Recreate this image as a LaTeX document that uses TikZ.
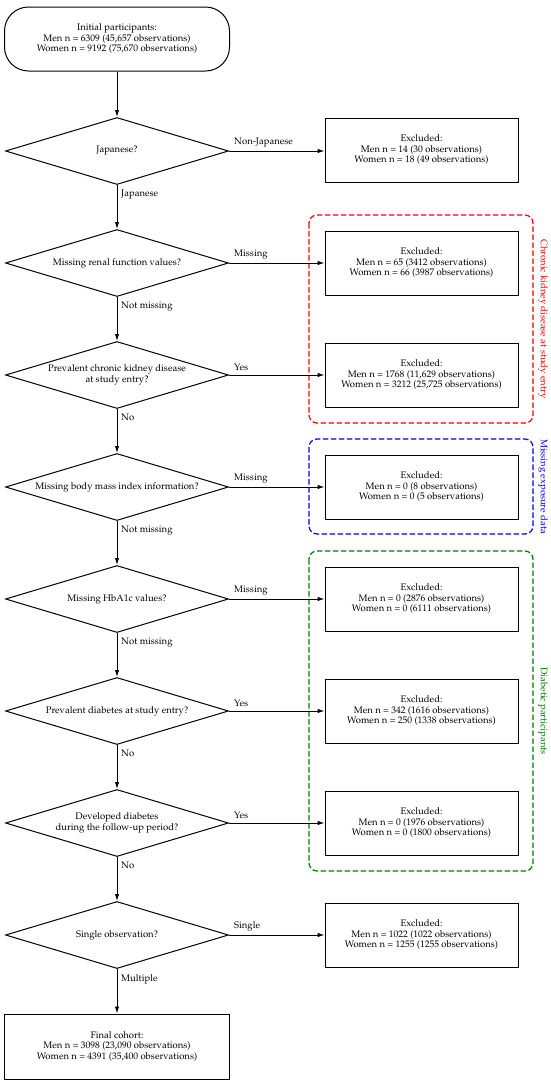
\documentclass[tikz,border=0pt]{standalone}
\usepackage[T1]{fontenc}
\usepackage{mathpazo}
\usetikzlibrary{shapes.geometric,arrows.meta}
\definecolor{grpred}{RGB}{255,0,0}
\definecolor{grpblue}{RGB}{0,0,255}
\definecolor{grpgreen}{RGB}{0,128,0}
\begin{document}
\begin{tikzpicture}[x=1pt,y=-1pt,
  every node/.style={font=\fontsize{9.5}{10.5}\selectfont, align=center},
  dec/.style={draw, diamond, line width=1pt, minimum width=223pt, minimum height=67pt, inner sep=0pt, shape aspect=3.3},
  exbox/.style={draw, rectangle, line width=1pt, minimum width=193pt, minimum height=64pt, inner sep=0pt},
  flow/.style={line width=1pt, -{Latex[length=7pt,width=4.5pt]}},
  hlbl/.style={anchor=south west, inner sep=0pt, xshift=5pt, yshift=4pt},
  vlbl/.style={anchor=north west, inner sep=0pt, xshift=4pt, yshift=-5pt},
  grp/.style={line width=1.2pt, dash pattern=on 5.5pt off 2.5pt, rounded corners=8pt},
  grplbl/.style={rotate=-90, inner sep=0pt}
]
\fill[white] (0,0) rectangle (550,1082);
\useasboundingbox (0,0) rectangle (550,1082);

% group frames
\draw[grp, grpred] (309,215) rectangle (533,423);
\node[grplbl, text=grpred] (gl1) at (543,319) {Chronic kidney disease at study entry};
\draw[grp, grpblue] (309,439) rectangle (533,534);
\node[grplbl, text=grpblue] (gl2) at (543,486.5) {Missing exposure data};
\draw[grp, grpgreen] (309,551) rectangle (533,871);
\node[grplbl, text=grpgreen] (gl3) at (543,711) {Diabetic participants};

% main column
\node[draw, rounded corners=24pt, minimum width=225pt, minimum height=64pt, line width=1pt, inner sep=0pt] (start) at (117,39)
  {Initial participants:\\Men n = 6309 (45,657 observations)\\Women n = 9192 (75,670 observations)};
\node[dec] (d1) at (117,151) {Japanese?};
\node[dec] (d2) at (117,263) {Missing renal function values?};
\node[dec] (d3) at (117,375) {Prevalent chronic kidney disease\\at study entry?};
\node[dec] (d4) at (117,487) {Missing body mass index information?};
\node[dec] (d5) at (117,599) {Missing HbA1c values?};
\node[dec] (d6) at (117,711) {Prevalent diabetes at study entry?};
\node[dec] (d7) at (117,823) {Developed diabetes\\during the follow-up period?};
\node[dec] (d8) at (117,935) {Single observation?};
\node[exbox, minimum width=225pt, minimum height=65pt] (final) at (117,1046.5)
  {Final cohort:\\Men n = 3098 (23,090 observations)\\Women n = 4391 (35,400 observations)};

% exclusion boxes
\node[exbox] (x1) at (421.5,150) {Excluded:\\Men n = 14 (30 observations)\\Women n = 18 (49 observations)};
\node[exbox] (x2) at (421.5,263) {Excluded:\\Men n = 65 (3412 observations)\\Women n = 66 (3987 observations)};
\node[exbox] (x3) at (421.5,375) {Excluded:\\Men n = 1768 (11,629 observations)\\Women n = 3212 (25,725 observations)};
\node[exbox] (x4) at (421.5,487) {Excluded:\\Men n = 0 (8 observations)\\Women n = 0 (5 observations)};
\node[exbox] (x5) at (421.5,599) {Excluded:\\Men n = 0 (2876 observations)\\Women n = 0 (6111 observations)};
\node[exbox] (x6) at (421.5,711) {Excluded:\\Men n = 342 (1616 observations)\\Women n = 250 (1338 observations)};
\node[exbox] (x7) at (421.5,823) {Excluded:\\Men n = 0 (1976 observations)\\Women n = 0 (1800 observations)};
\node[exbox] (x8) at (421.5,935) {Excluded:\\Men n = 1022 (1022 observations)\\Women n = 1255 (1255 observations)};

% vertical flow
\draw[flow] (start) -- (d1);
\draw[flow] (d1) -- (d2);
\draw[flow] (d2) -- (d3);
\draw[flow] (d3) -- (d4);
\draw[flow] (d4) -- (d5);
\draw[flow] (d5) -- (d6);
\draw[flow] (d6) -- (d7);
\draw[flow] (d7) -- (d8);
\draw[flow] (d8) -- (final);

% horizontal flow
\draw[flow] (d1.east) -- (x1.west |- d1.east);
\draw[flow] (d2.east) -- (x2.west);
\draw[flow] (d3.east) -- (x3.west);
\draw[flow] (d4.east) -- (x4.west);
\draw[flow] (d5.east) -- (x5.west);
\draw[flow] (d6.east) -- (x6.west);
\draw[flow] (d7.east) -- (x7.west);
\draw[flow] (d8.east) -- (x8.west);

% edge labels
\node[hlbl] (l1h) at (d1.east) {Non-Japanese};
\node[hlbl] (l2h) at (d2.east) {Missing};
\node[hlbl] (l3h) at (d3.east) {Yes};
\node[hlbl] (l4h) at (d4.east) {Missing};
\node[hlbl] (l5h) at (d5.east) {Missing};
\node[hlbl] (l6h) at (d6.east) {Yes};
\node[hlbl] (l7h) at (d7.east) {Yes};
\node[hlbl] (l8h) at (d8.east) {Single};
\node[vlbl] (l1v) at (d1.south) {Japanese};
\node[vlbl] (l2v) at (d2.south) {Not missing};
\node[vlbl] (l3v) at (d3.south) {No};
\node[vlbl] (l4v) at (d4.south) {Not missing};
\node[vlbl] (l5v) at (d5.south) {Not missing};
\node[vlbl] (l6v) at (d6.south) {No};
\node[vlbl] (l7v) at (d7.south) {No};
\node[vlbl] (l8v) at (d8.south) {Multiple};
\end{tikzpicture}
\end{document}
